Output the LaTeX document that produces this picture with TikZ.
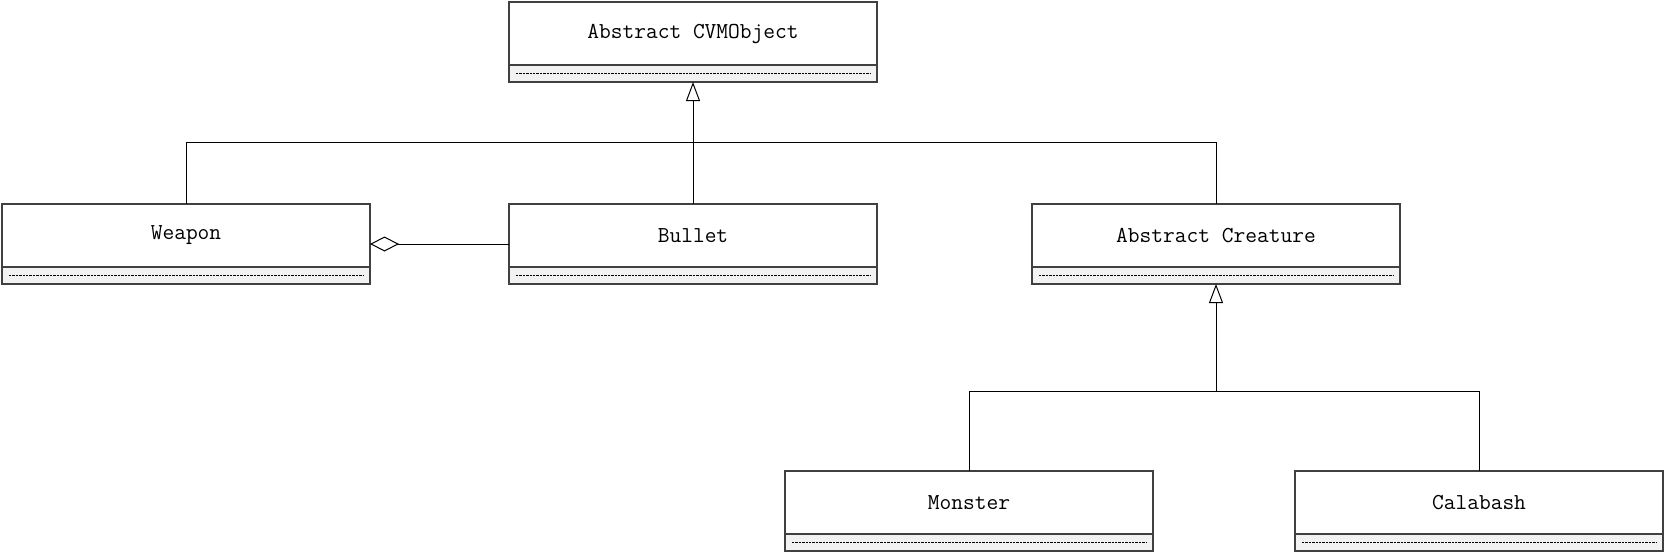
\documentclass[tikz,border=0pt]{standalone}
\usepackage{fontspec}
\usetikzlibrary{arrows.meta,positioning}

% one class box: name, centre of the title part, title
\newcommand{\umlclass}[3]{%
  \node[classhead] (#1) at (#2) {#3};
  \node[classbody, below=0pt of #1] (#1b) {};
  \draw[dotrule] ([xshift=3.5pt]#1b.west) -- ([xshift=-3.5pt]#1b.east);
}

\begin{document}
\begin{tikzpicture}[x=0.5pt, y=-0.5pt,
    classhead/.style={draw=black!75, line width=1pt, fill=white, outer sep=0pt,
      minimum width=184pt, minimum height=31.5pt, inner sep=0pt,
      font=\ttfamily\fontsize{11.4}{13}\selectfont},
    classbody/.style={draw=black!75, line width=1pt, fill=black!5, outer sep=0pt,
      minimum width=184pt, minimum height=8.5pt, inner sep=0pt},
    dotrule/.style={line width=0.6pt, dash pattern=on 1.2pt off 0.5pt},
    link/.style={line width=0.5pt},
    inherit/.style={link, -{Triangle[open, length=9.5pt, width=7pt]}},
    aggreg/.style={link, {Diamond[open, length=14.5pt, width=7.5pt]}-}]
  \useasboundingbox (0,0) rectangle (1665,552);

  % Classes
  \umlclass{obj}{693,33.5}{Abstract CVMObject}
  \umlclass{weapon}{186,235.5}{Weapon}
  \umlclass{bullet}{693,235.5}{Bullet}
  \umlclass{creature}{1216,235.5}{Abstract Creature}
  \umlclass{monster}{969,502.5}{Monster}
  \umlclass{calabash}{1479,502.5}{Calabash}

  % Inheritance from CVMObject
  \coordinate (objbar) at (693,142.5);
  \draw[link] (weapon.north) |- (objbar) -| (creature.north);
  \draw[inherit] (bullet.north) -- (objb.south);

  % Weapon holds Bullet
  \draw[aggreg] ([yshift=-4.25pt]weapon.east) -- ([yshift=-4.25pt]bullet.west);

  % Inheritance from Creature
  \coordinate (creabar) at (1216,391.5);
  \draw[link] (monster.north) |- (creabar) -| (calabash.north);
  \draw[inherit] (creabar) -- (creatureb.south);
\end{tikzpicture}
\end{document}
